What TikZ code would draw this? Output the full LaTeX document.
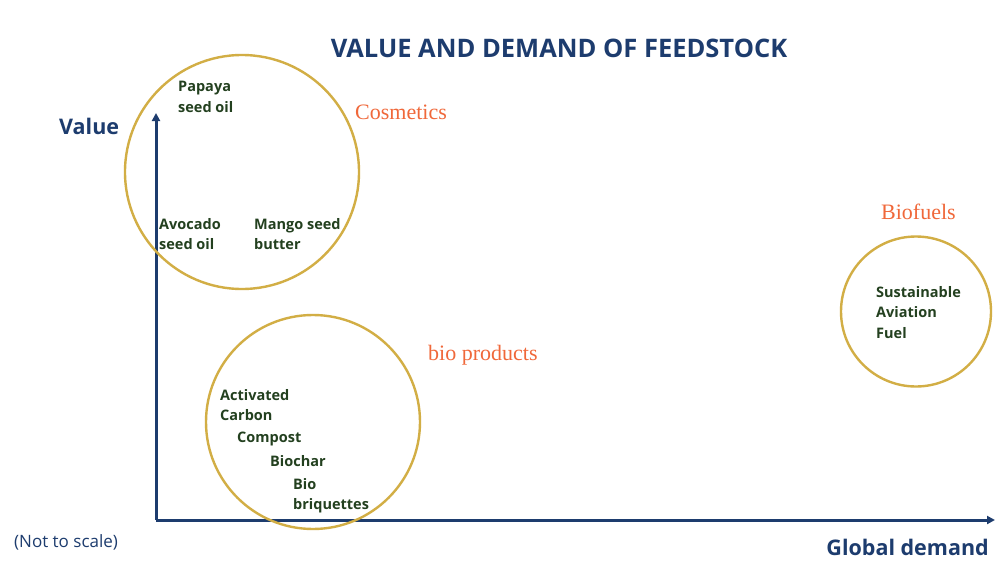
\documentclass[tikz,border=0pt]{standalone}
\usepackage{fontspec}
\setmainfont{Open Sans}
\newfontfamily\serifo{Liberation Serif}
\usetikzlibrary{arrows.meta}
\definecolor{axisblue}{HTML}{1D3C6E}
\definecolor{goldc}{HTML}{D2AE45}
\definecolor{orangec}{HTML}{F0683A}
\definecolor{greent}{HTML}{23401F}
\tikzset{
  item/.style={anchor=north west, inner sep=0pt, align=left, text=greent,
    font=\fontsize{14.5}{20.5}\selectfont\bfseries},
  ring/.style={draw=goldc, line width=2.4pt},
  axisline/.style={draw=axisblue, line width=3pt, -{Triangle[length=8pt,width=8pt]}},
  cat/.style={text=orangec, font=\serifo\fontsize{22}{24}\selectfont, inner sep=0pt},
  axlab/.style={text=axisblue, font=\fontsize{21.5}{24}\selectfont\bfseries, inner sep=0pt}
}
\begin{document}
\begin{tikzpicture}[x=1pt,y=-1pt]
\useasboundingbox (0,0) rectangle (1002,568);
\fill[white] (0,0) rectangle (1002,568);
\node[axlab, font=\fontsize{25.5}{28}\selectfont\bfseries] (title) at (559,48) {VALUE AND DEMAND OF FEEDSTOCK};
% axes
\coordinate (origin) at (156,520);
\coordinate (ytop) at (156,113);
\coordinate (xend) at (995,520);
\draw[axisline] (origin) -- (ytop);
\draw[axisline] (origin) -- (xend);
\node[axlab, anchor=west] (value) at (59,126) {Value};
\node[axlab, anchor=east] (gdem) at (989,547) {Global demand};
\node[text=axisblue, inner sep=0pt, anchor=west, font=\fontsize{17}{20}\selectfont] (scale) at (14,542) {(Not to scale)};
% circles
\node[ring, circle, minimum size=234pt] (cos) at (242,172) {};
\node[ring, circle, minimum size=214pt] (bio) at (313,422) {};
\node[ring, circle, minimum size=150pt] (fuel) at (916,311.5) {};
% category labels
\node[cat, anchor=west] (coslab) at (355,112) {Cosmetics};
\node[cat, anchor=west] (biolab) at (428,355) {bio products};
\node[cat, anchor=west] (fuellab) at (881,212) {Biofuels};
% items
\node[item] (papaya) at (178,81) {Papaya\\seed oil};
\node[item] (avocado) at (159,218) {Avocado\\seed oil};
\node[item] (mango) at (254,218) {Mango seed\\butter};
\node[item] (carbon) at (220,389) {Activated\\Carbon};
\node[item] (compost) at (237,432) {Compost};
\node[item] (biochar) at (270,455) {Biochar};
\node[item] (briq) at (293,478) {Bio\\briquettes};
\node[item] (saf) at (876,286) {Sustainable\\Aviation\\Fuel};
\end{tikzpicture}
\end{document}
